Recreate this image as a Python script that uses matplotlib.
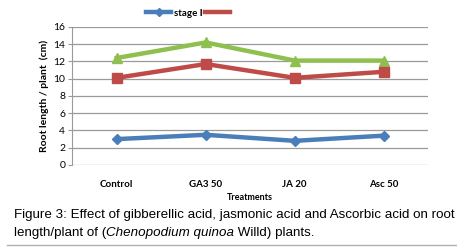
import matplotlib
matplotlib.use("Agg")
import matplotlib.pyplot as plt
from matplotlib.lines import Line2D
from matplotlib.offsetbox import TextArea, HPacker, AnchoredOffsetbox

categories = ["Control", "GA3 50", "JA 20", "Asc 50"]
stage1 = [3.0, 3.5, 2.8, 3.4]
stage2 = [10.1, 11.7, 10.1, 10.8]
stage3 = [12.4, 14.2, 12.1, 12.1]
yticks = [0, 2, 4, 6, 8, 10, 12, 14, 16]

fig = plt.figure(figsize=(4.57, 2.47), dpi=100)
ax = fig.add_axes([0.158, 0.332, 0.779, 0.559])

x = list(range(len(categories)))
ax.plot(x, stage3, color="#8fc04f", lw=3.2, marker="^", ms=7, zorder=3)
ax.plot(x, stage2, color="#be4b48", lw=3.2, marker="s", ms=7, zorder=3)
ax.plot(x, stage1, color="#4a7ebb", lw=3.2, marker="D", ms=5.5, zorder=3)

ax.set_xlim(-0.5, 3.5)
ax.set_ylim(0, 16)
ax.set_yticks(yticks)
ax.set_yticklabels([str(v) for v in yticks], fontsize=7.5, family="Lato")
ax.set_xticks(x)
ax.set_xticklabels(categories, fontsize=7, family="Lato", fontweight="bold")
ax.yaxis.grid(True, color="#9a9a9a", lw=0.9)
ax.set_axisbelow(True)
for s in ["top", "right", "bottom"]:
    ax.spines[s].set_visible(False)
ax.spines["left"].set_color("#9a9a9a")
ax.tick_params(axis="y", length=3, color="#9a9a9a", pad=2)
ax.tick_params(axis="x", length=0, pad=11)
ax.set_ylabel("Root length / plant  (cm)", fontsize=7.5, family="Lato", fontweight="bold", labelpad=3)
ax.set_xlabel("Treatments", fontsize=6.5, family="Lato", fontweight="bold", labelpad=3)

handles = [Line2D([], [], color="#4a7ebb", lw=3.2, marker="D", ms=4),
           Line2D([], [], color="#be4b48", lw=3.2)]
ax.legend(handles, ["stage I", ""], loc="center", bbox_to_anchor=(0.33, 1.1),
          ncol=2, frameon=False, prop={"family": "Lato", "weight": "bold", "size": 7},
          handlelength=2.6, columnspacing=0.2, handletextpad=0.3)

fs = 9.6
fig.text(0.03, 0.128, "Figure 3: Effect of gibberellic acid, jasmonic acid and Ascorbic acid on root",
         fontsize=fs, family="Liberation Sans", va="center")
parts = [TextArea("length/plant of (", textprops=dict(fontsize=fs, family="Liberation Sans")),
         TextArea("Chenopodium quinoa", textprops=dict(fontsize=fs, family="Liberation Sans", style="italic")),
         TextArea(" Willd) plants.", textprops=dict(fontsize=fs, family="Liberation Sans"))]
box = HPacker(children=parts, align="baseline", pad=0, sep=0)
ab = AnchoredOffsetbox(loc="center left", child=box, pad=0, frameon=False,
                       bbox_to_anchor=(0.03, 0.055), bbox_transform=fig.transFigure, borderpad=0)
fig.add_artist(ab)

fig.add_artist(Line2D([0.015, 1.0], [0.008, 0.008], color="#b0b0b0", lw=1, transform=fig.transFigure))

fig.savefig("out.png", dpi=100)
